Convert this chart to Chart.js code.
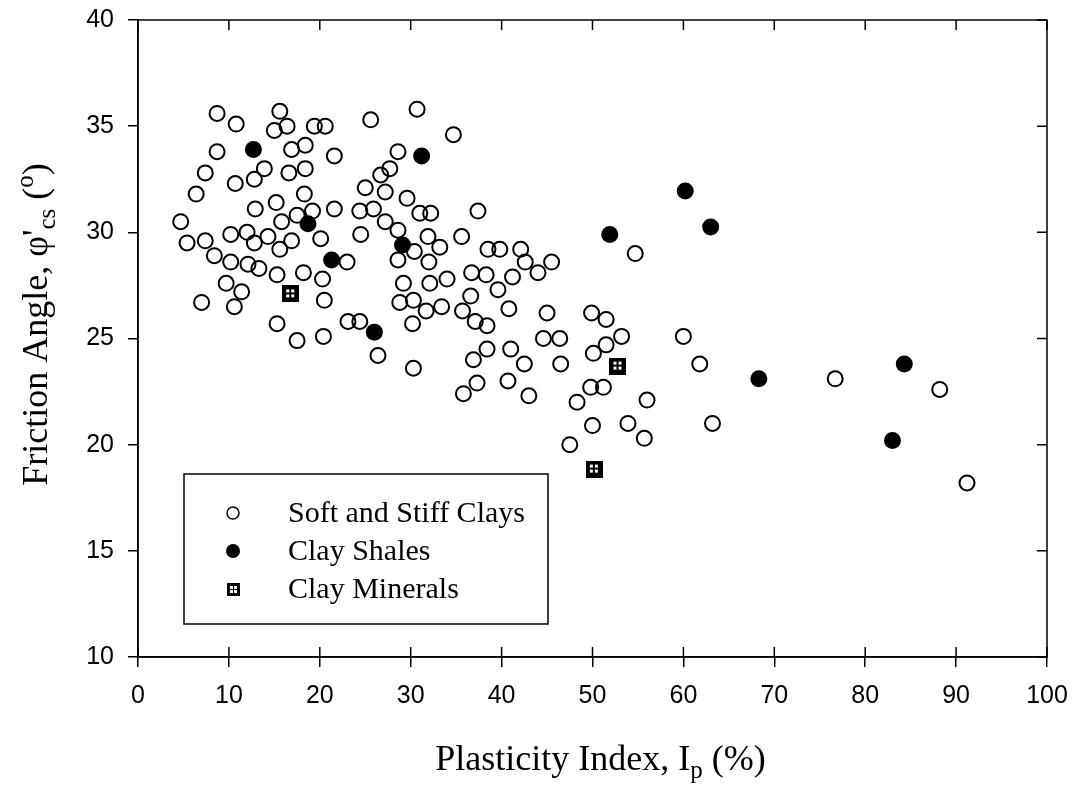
<!DOCTYPE html>
<html>
<head>
<meta charset="utf-8">
<script src="https://cdn.jsdelivr.net/npm/chart.js@4.4.0/dist/chart.umd.min.js"></script>
<style>
	html, body { margin: 0; padding: 0; background: #fff; }
	canvas { display: block; }
</style>
</head>
<body>
<canvas id="canvasfriction" width="1081" height="788"></canvas>
<script>

// Soft and stiff clays (open circles)
var softIp = [8.7, 15.6, 10.8, 15.0, 16.4, 19.4, 20.6, 8.7, 16.9, 18.4, 21.6, 7.4, 13.9, 10.7, 12.8, 16.6, 18.4, 6.4, 15.2, 18.3, 12.9, 19.2, 21.6, 4.7, 15.8, 17.5, 10.2, 12.0, 14.3, 20.1, 5.4, 7.4, 12.8, 16.9, 15.6, 8.4, 10.2, 12.1, 13.3, 15.3, 18.2, 20.3, 9.7, 11.4, 7.0, 10.6, 20.5, 15.3, 17.5, 20.4,
	30.7, 25.6, 34.7, 28.6, 27.7, 26.7, 25.0, 27.2, 29.6, 24.4, 25.9, 31.0, 32.2, 37.4, 27.2, 28.6, 24.5, 31.9, 35.6, 30.4, 33.2, 38.5, 39.8, 23.0, 28.6, 32.0, 29.2, 32.1, 34.0, 36.7, 38.3, 39.6, 28.8, 30.3,
	23.1, 24.4, 26.4, 31.7, 33.4, 30.2, 30.3, 36.6, 35.7, 37.1, 38.4, 38.4, 36.9, 37.3, 35.8,
	42.1, 42.6, 45.5, 44.0, 41.2, 40.8, 45.0, 44.6, 46.4, 49.9, 51.5, 53.2, 51.5, 50.1, 41.0, 42.5, 46.5, 40.7, 43.0, 49.8, 51.2, 48.3, 56.0, 50.0, 53.9, 55.7, 47.5, 54.7,
	60.0, 61.8, 76.7, 88.2, 91.2, 63.2];
var softPhi = [35.6, 35.7, 35.1, 34.8, 35.0, 35.0, 35.0, 33.8, 33.9, 34.1, 33.6, 32.8, 33.0, 32.3, 32.5, 32.8, 33.0, 31.8, 31.4, 31.8, 31.1, 31.0, 31.1, 30.5, 30.5, 30.8, 29.9, 30.0, 29.8, 29.7, 29.5, 29.6, 29.5, 29.6, 29.2, 28.9, 28.6, 28.5, 28.3, 28.0, 28.1, 27.8, 27.6, 27.2, 26.7, 26.5, 26.8, 25.7, 24.9, 25.1,
	35.8, 35.3, 34.6, 33.8, 33.0, 32.7, 32.1, 31.9, 31.6, 31.0, 31.1, 30.9, 30.9, 31.0, 30.5, 30.1, 29.9, 29.8, 29.8, 29.1, 29.3, 29.2, 29.2, 28.6, 28.7, 28.6, 27.6, 27.6, 27.8, 28.1, 28.0, 27.3, 26.7, 26.8,
	25.8, 25.8, 24.2, 26.3, 26.5, 25.7, 23.6, 27.0, 26.3, 25.8, 25.6, 24.5, 24.0, 22.9, 22.4,
	29.2, 28.6, 28.6, 28.1, 27.9, 26.4, 26.2, 25.0, 25.0, 26.2, 25.9, 25.1, 24.7, 24.3, 24.5, 23.8, 23.8, 23.0, 22.3, 22.7, 22.7, 22.0, 22.1, 20.9, 21.0, 20.3, 20.0, 29.0,
	25.1, 23.8, 23.1, 22.6, 18.2, 21.0];

// Clay shales (filled circles)
var shaleIp = [12.7, 18.7, 21.3, 31.2, 29.1, 26.0, 51.9, 60.2, 63.0, 68.3, 84.3, 83.0];
var shalePhi = [33.9, 30.4, 28.7, 33.6, 29.4, 25.3, 29.9, 31.95, 30.25, 23.1, 23.8, 20.2];

// Clay minerals (squares)
var mineralIp = [16.8, 52.8, 50.2];
var mineralPhi = [27.1, 23.7, 18.85];

var legendLabels = ["Soft and Stiff Clays", "Clay Shales", "Clay Minerals"];
var xTicks = [0, 10, 20, 30, 40, 50, 60, 70, 80, 90, 100];
var yTicks = [10, 15, 20, 25, 30, 35, 40];

var serif = '"Liberation Serif", "Times New Roman", serif';
var sans = '"Liberation Sans", Arial, sans-serif';

function pairs(xs, ys){
	var out = [];
	for (var i = 0; i < xs.length; i++){ out.push({x: xs[i], y: ys[i]}); }
	return out;
}

function square_marker(size){
	var c = document.createElement('canvas');
	c.width = size; c.height = size;
	var g = c.getContext('2d');
	g.fillStyle = '#000';
	g.fillRect(0, 0, size, size);
	g.fillStyle = '#fff';
	var s = Math.round(size * 0.2);
	var a = Math.round(size * 0.25), b = Math.round(size * 0.55);
	g.fillRect(a, a, s, s); g.fillRect(b, a, s, s);
	g.fillRect(a, b, s, s); g.fillRect(b, b, s, s);
	return c;
}

// text with sub/superscripts: parts = [text, size, shift]
function draw_rich(ctx, parts, cx, cy){
	var w = 0;
	parts.forEach(function(p){ ctx.font = p[1] + 'px ' + serif; w += ctx.measureText(p[0]).width; });
	var x = cx - w / 2;
	ctx.textAlign = 'left';
	ctx.textBaseline = 'alphabetic';
	parts.forEach(function(p){
		ctx.font = p[1] + 'px ' + serif;
		ctx.fillText(p[0], x, cy + p[2]);
		x += ctx.measureText(p[0]).width;
	});
}

var frame_plugin = {
	id: 'frame',
	afterDraw: function(chart){
		var ctx = chart.ctx, a = chart.chartArea;
		var xs = chart.scales.x, ys = chart.scales.y;
		ctx.save();
		ctx.strokeStyle = '#000';
		ctx.fillStyle = '#000';
		ctx.lineWidth = 1.5;
		ctx.strokeRect(a.left, a.top, a.right - a.left, a.bottom - a.top);

		// inner ticks: top, right and the inside half of the bottom ones
		ctx.beginPath();
		xTicks.forEach(function(v){
			var px = xs.getPixelForValue(v);
			ctx.moveTo(px, a.top); ctx.lineTo(px, a.top + 10);
			ctx.moveTo(px, a.bottom); ctx.lineTo(px, a.bottom - 10);
		});
		yTicks.forEach(function(v){
			var py = ys.getPixelForValue(v);
			ctx.moveTo(a.right, py); ctx.lineTo(a.right - 10, py);
		});
		ctx.stroke();

		// axis titles
		draw_rich(ctx, [["Plasticity Index, I", 36, 0], ["p", 25, 8], [" (%)", 36, 0]], (a.left + a.right) / 2 + 8, 770);
		ctx.save();
		ctx.translate(47, (a.top + a.bottom) / 2 - 14);
		ctx.rotate(-Math.PI / 2);
		draw_rich(ctx, [["Friction Angle, \u03C6'", 36, 0], ["cs", 25, 8], [" (", 36, 0], ["o", 25, -14], [")", 36, 0]], 0, 0);
		ctx.restore();

		// legend box
		ctx.lineWidth = 1.5;
		ctx.strokeRect(184, 474, 364, 150);
		var rows = [513, 551, 589];
		ctx.lineWidth = 1.5;
		ctx.beginPath(); ctx.arc(233, rows[0], 6, 0, Math.PI * 2); ctx.stroke();
		ctx.beginPath(); ctx.arc(233, rows[1], 7, 0, Math.PI * 2); ctx.fill();
		ctx.drawImage(square_marker(13), 227, rows[2] - 6);
		ctx.font = '30px ' + serif;
		ctx.textAlign = 'left';
		ctx.textBaseline = 'middle';
		legendLabels.forEach(function(t, i){ ctx.fillText(t, 288, rows[i] + 1); });
		ctx.restore();
	}
};

function init_chart_friction(){

	if( typeof (Chart) === 'undefined'){ return; }

	var chart_scatter_settings = {
		type: 'scatter',
		data: {
			datasets: [{
				label: legendLabels[0],
				data: pairs(softIp, softPhi),
				pointStyle: 'circle',
				pointRadius: 7.5,
				pointHoverRadius: 7.5,
				backgroundColor: 'rgba(0,0,0,0)',
				borderColor: '#000',
				borderWidth: 2
			}, {
				label: legendLabels[1],
				data: pairs(shaleIp, shalePhi),
				pointStyle: 'circle',
				pointRadius: 8.5,
				pointHoverRadius: 8.5,
				backgroundColor: '#000',
				borderColor: '#000',
				borderWidth: 0
			}, {
				label: legendLabels[2],
				data: pairs(mineralIp, mineralPhi),
				pointStyle: square_marker(17),
				backgroundColor: '#000',
				borderColor: '#000'
			}]
		},
		options: {
			responsive: false,
			animation: false,
			layout: { padding: { top: 20, right: 34, left: 0, bottom: 0 } },
			plugins: { legend: { display: false }, tooltip: { enabled: false } },
			scales: {
				x: {
					type: 'linear',
					min: 0, max: 100,
					afterFit: function(s){ s.height = 131; s.paddingLeft = 0; s.paddingRight = 0; },
					afterBuildTicks: function(s){ s.ticks = xTicks.map(function(v){ return {value: v}; }); },
					grid: { drawOnChartArea: false, drawTicks: true, tickLength: 10, color: '#000', lineWidth: 1.5 },
					border: { display: true, color: '#000', width: 1.5 },
					ticks: { color: '#000', padding: 14, maxRotation: 0, font: { family: sans, size: 25 } }
				},
				y: {
					type: 'linear',
					min: 10, max: 40,
					afterFit: function(s){ s.width = 138; s.paddingTop = 0; s.paddingBottom = 0; },
					afterBuildTicks: function(s){ s.ticks = yTicks.map(function(v){ return {value: v}; }); },
					grid: { drawOnChartArea: false, drawTicks: true, tickLength: 10, color: '#000', lineWidth: 1.5 },
					border: { display: true, color: '#000', width: 1.5 },
					ticks: { color: '#000', padding: 14, font: { family: sans, size: 25 } }
				}
			}
		},
		plugins: [frame_plugin]
	};

	var chart_scatter = new Chart(document.getElementById('canvasfriction'), chart_scatter_settings);
}

init_chart_friction();

</script>
</body>
</html>
